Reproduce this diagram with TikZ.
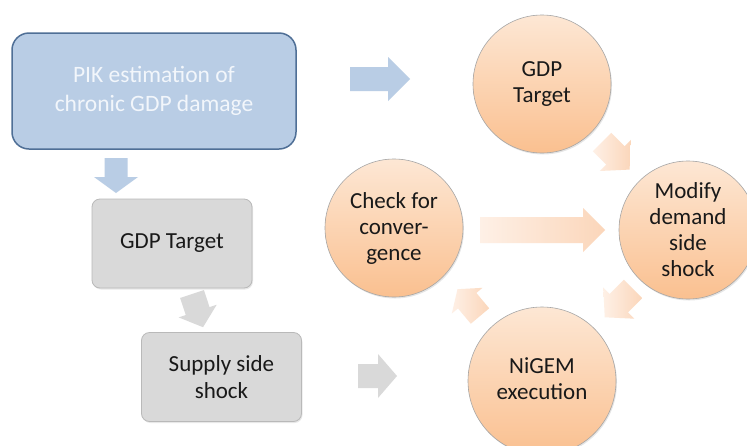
\documentclass[tikz,border=0pt]{standalone}
\usepackage{fontspec}
\setmainfont{Carlito}
\usetikzlibrary{shadows}
\definecolor{bluefill}{RGB}{185,205,229}
\definecolor{blueline}{RGB}{79,111,150}
\definecolor{bluetext}{RGB}{242,246,251}
\definecolor{grayfill}{RGB}{217,217,217}
\definecolor{grayline}{RGB}{185,185,185}
\definecolor{peachtop}{RGB}{253,231,212}
\definecolor{peachbot}{RGB}{250,192,144}
\definecolor{arrowlight}{RGB}{254,240,230}
\definecolor{arrowdark}{RGB}{251,214,186}
\definecolor{txt}{RGB}{25,25,25}
\newcommand\blockarr[8]{%
  \path[#1, shift={(#2,#3)}, rotate=#4]
    (0,-#6) -- ({#5-#8},-#6) -- ({#5-#8},-#7) -- (#5,0) --
    ({#5-#8},#7) -- ({#5-#8},#6) -- (0,#6) -- cycle;}
\tikzset{
  bluebox/.style={draw=blueline, line width=1.5pt, fill=bluefill,
    rounded corners=17pt, text=bluetext, align=center,
    font=\fontsize{23.5}{29}\selectfont, minimum width=284pt,
    minimum height=116pt, inner sep=0pt},
  graybox/.style={draw=grayline, line width=0.8pt, fill=grayfill,
    rounded corners=8pt, text=txt, align=center,
    font=\fontsize{23}{27}\selectfont, minimum width=160pt,
    minimum height=89pt, inner sep=0pt,
    drop shadow={opacity=0.18, shadow xshift=1pt, shadow yshift=-1.5pt}},
  peach/.style={circle, draw=black!35, line width=0.6pt,
    top color=peachtop, bottom color=peachbot, text=txt, align=center,
    font=\fontsize{23}{26}\selectfont, inner sep=0pt, minimum size=138pt,
    drop shadow={opacity=0.2, shadow xshift=1pt, shadow yshift=-1.5pt}},
  bluearr/.style={fill=bluefill},
  grayarr/.style={fill=grayfill},
  peacharr/.style={left color=arrowlight, right color=arrowdark},
}
\begin{document}
\begin{tikzpicture}[x=1pt,y=-1pt]
\useasboundingbox (0,0) rectangle (747,445);
\clip (0,0) rectangle (747,445);
\fill[white] (0,0) rectangle (747,445);
% boxes
\node[bluebox] (pik) at (154,91) {PIK estimation of\\chronic GDP damage};
\node[graybox] (gt) at (172,243.5) {GDP Target};
\node[graybox] (ss) at (221.5,377) {Supply side\\shock};
% circles
\node[peach] (tgt) at (542,84) {GDP\\Target};
\node[peach] (chk) at (394,228) {Check for\\conver-\\gence};
\node[peach] (mod) at (688,230) {Modify\\demand\\side\\shock};
\node[peach, minimum size=148pt] (nig) at (542,381)
  {\raisebox{4pt}{\begin{tabular}{@{}c@{}}NiGEM\\execution\end{tabular}}};
% block arrows
\blockarr{bluearr}{116}{158}{-90}{35}{11.5}{22}{16}
\blockarr{bluearr}{350}{79}{0}{60}{12}{22}{22}
\blockarr{grayarr}{192}{294}{-71.6}{35}{12.5}{20}{17}
\blockarr{grayarr}{358}{376}{0}{39}{12}{22}{19}
\blockarr{peacharr}{602}{142}{-45}{39}{13}{22}{20}
\blockarr{peacharr}{480}{230}{0}{125}{13}{22}{22}
\blockarr{peacharr}{633}{289}{-135}{40}{13}{22}{20}
\blockarr{peacharr}{480}{316}{130}{35}{12}{20}{15}
\end{tikzpicture}
\end{document}
